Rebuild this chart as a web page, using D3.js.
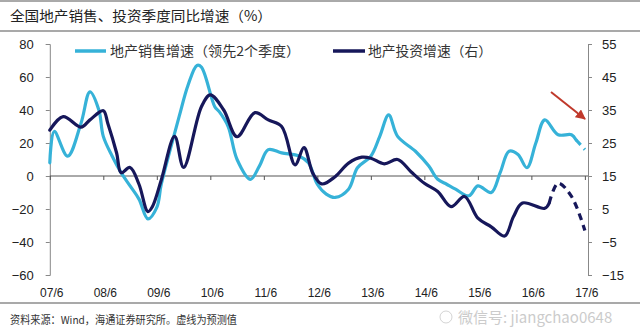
<!DOCTYPE html>
<html><head><meta charset="utf-8">
<script src="https://cdn.jsdelivr.net/npm/d3@7"></script>
<style>
html,body{margin:0;padding:0;background:#fff;}
svg{display:block;}
text{font-family:"Liberation Sans",Arial,"Noto Sans CJK SC",sans-serif;}
.cjk{font-family:"Noto Sans CJK SC","Liberation Sans",sans-serif;}
</style></head><body>
<svg id="c" width="640" height="331"></svg>
<script>
// ---- data ----
const title = "全国地产销售、投资季度同比增速（%）";
const source = "资料来源：Wind，海通证券研究所。虚线为预测值";
const watermark = "微信号: jiangchao0648";
const seriesNames = ["地产销售增速（领先2个季度）", "地产投资增速（右）"];
const xTickLabels = ["07/6","08/6","09/6","10/6","11/6","12/6","13/6","14/6","15/6","16/6","17/6"];
const leftTicks = [80,60,40,20,0,-20,-40,-60];
const rightTicks = [55,45,35,25,15,5,-5,-15];

const salesDates = ["2007-06","2007-07","2007-10","2008-01","2008-03","2008-05","2008-06","2008-08","2008-10","2008-12",
  "2009-02","2009-04","2009-06","2009-07","2009-09","2009-11","2010-01","2010-03","2010-04","2010-07",
  "2010-08","2010-10","2010-12","2011-03","2011-05","2011-07","2011-10","2012-02","2012-04","2012-06",
  "2012-08","2012-10","2013-01","2013-03","2013-06","2013-08","2013-10","2013-12","2014-04","2014-07",
  "2014-09","2014-11","2015-01","2015-04","2015-06","2015-09","2015-11","2016-01","2016-03","2016-05",
  "2016-07","2016-09","2016-12","2017-03","2017-04","2017-06"];
const salesValues = [8,27,12,32,51,40,24,12,2,-6,
  -14,-26,-19,-5,16,36,55,67,66,42,
  39,30,10,-2,6,16,14,12,8,-5,
  -11,-13,-8,5,12,24,37,24,15,6,
  -2,-5,-8,-12,-6,-10,2,15,13,5,
  20,34,25,25,22,16];
const salesForecastFrom = "2017-04";

const investDates = ["2007-06","2007-09","2008-01","2008-03","2008-06","2008-07","2008-09","2008-10","2008-12","2009-02",
  "2009-04","2009-05","2009-07","2009-10","2009-12","2010-04","2010-06","2010-09","2010-12","2011-04",
  "2011-07","2011-10","2012-01","2012-03","2012-05","2012-07","2012-10","2013-01","2013-04","2013-06",
  "2013-09","2013-12","2014-03","2014-06","2014-09","2014-12","2015-03","2015-06","2015-09","2015-12",
  "2016-02","2016-04","2016-09","2016-10","2016-12","2017-03","2017-06"];
const investValues = [28.9,33,29.8,32,34.8,31,21.9,16,17.6,12.5,
  4.2,5.7,13.8,27,17.6,36,39.6,35,26.9,34.2,
  32,30,18.4,23.6,15.8,12.6,14.8,18.9,20.7,20.4,
  18.7,20,16.3,12.8,10.3,5.7,8.8,2.2,-0.4,-3.2,
  2.7,6.8,5.2,6.8,12.8,8.8,-1.5];
const investForecastFrom = "2016-10";

// ---- helpers ----
const mIdx = s => { const [y,m] = s.split("-").map(Number); return (y-2007)*12 + (m-6); };

const svg = d3.select("#c");
const X0 = 49.8, Xend = 588, YT = 44, YB = 275;
const x = d3.scaleLinear().domain([0, 120.7]).range([X0, Xend]);
const yL = d3.scaleLinear().domain([-60, 80]).range([YB, YT]);
const yR = d3.scaleLinear().domain([-15, 55]).range([YB, YT]);

// frame lines
svg.append("line").attr("x1",0).attr("x2",640).attr("y1",1).attr("y2",1).attr("stroke","#555").attr("stroke-width",1);
svg.append("line").attr("x1",0).attr("x2",640).attr("y1",31).attr("y2",31).attr("stroke","#555").attr("stroke-width",1.2);
svg.append("line").attr("x1",0).attr("x2",640).attr("y1",303).attr("y2",303).attr("stroke","#555").attr("stroke-width",1.2);

svg.append("text").attr("class","cjk").attr("x",10).attr("y",21).attr("font-size",14).attr("fill","#222")
  .attr("textLength",262).attr("lengthAdjust","spacingAndGlyphs").text(title);
svg.append("text").attr("class","cjk").attr("x",10).attr("y",324).attr("font-size",11).attr("fill","#333")
  .attr("textLength",227).attr("lengthAdjust","spacingAndGlyphs").text(source);

// left axis
const gL = svg.append("g").attr("transform",`translate(${X0},0)`)
  .call(d3.axisLeft(yL).tickValues(leftTicks).tickSize(4).tickSizeOuter(4).tickPadding(12));
gL.select(".domain").attr("stroke","#888");
gL.selectAll(".tick line").attr("stroke","#888");
gL.selectAll("text").attr("font-size",13).attr("fill","#222").attr("font-family","Liberation Sans, Arial, sans-serif");

// right axis
const gR = svg.append("g").attr("transform",`translate(${Xend},0)`)
  .call(d3.axisRight(yR).tickValues(rightTicks).tickSize(4).tickSizeOuter(4).tickPadding(10));
gR.select(".domain").attr("stroke","#888");
gR.selectAll(".tick line").attr("stroke","#888");
gR.selectAll("text").attr("font-size",13).attr("fill","#222").attr("font-family","Liberation Sans, Arial, sans-serif");

// x axis on zero line
const gX = svg.append("g").attr("transform",`translate(0,${yL(0)})`)
  .call(d3.axisBottom(x).tickValues(d3.range(0,121,12)).tickSize(4).tickSizeOuter(0).tickFormat(()=>""));
gX.select(".domain").attr("stroke","#555").attr("d",`M${X0},0H${Xend}`);
gX.selectAll(".tick line").attr("stroke","#555");

// x labels at bottom
svg.append("g").selectAll("text").data(xTickLabels).join("text")
  .attr("x",(d,i)=>x(i*12)+2).attr("y",297).attr("text-anchor","middle")
  .attr("font-size",12).attr("fill","#222").text(d=>d);

// lines
const curve = d3.curveCatmullRom.alpha(0.5);
function drawSeries(dates, vals, fcFrom, yScale, color){
  const pts = dates.map((d,i)=>({m:mIdx(d), v:vals[i]}));
  const k = dates.indexOf(fcFrom);
  const gen = d3.line().x(d=>x(d.m)).y(d=>yScale(d.v)).curve(curve);
  svg.append("path").attr("d",gen(pts.slice(0,k+1))).attr("fill","none")
    .attr("stroke",color).attr("stroke-width",3.2).attr("stroke-linejoin","round").attr("stroke-linecap","round");
  svg.append("path").attr("d",gen(pts.slice(k))).attr("fill","none")
    .attr("stroke",color).attr("stroke-width",3.2).attr("stroke-dasharray","7,5");
}
const cSales = "#36b2d8", cInv = "#16175a";
drawSeries(salesDates, salesValues, salesForecastFrom, yL, cSales);
drawSeries(investDates, investValues, investForecastFrom, yR, cInv);

// legend
const lg = svg.append("g");
lg.append("line").attr("x1",75).attr("x2",106).attr("y1",51).attr("y2",51).attr("stroke",cSales).attr("stroke-width",3.5);
lg.append("text").attr("class","cjk").attr("x",110).attr("y",56).attr("font-size",13.5).attr("fill","#333")
  .attr("textLength",190).attr("lengthAdjust","spacingAndGlyphs").text(seriesNames[0]);
lg.append("line").attr("x1",333).attr("x2",365).attr("y1",51).attr("y2",51).attr("stroke",cInv).attr("stroke-width",3.5);
lg.append("text").attr("class","cjk").attr("x",368).attr("y",56).attr("font-size",13.5).attr("fill","#333")
  .attr("textLength",124).attr("lengthAdjust","spacingAndGlyphs").text(seriesNames[1]);

// red arrow
const defs = svg.append("defs");
defs.append("marker").attr("id","ah").attr("viewBox","0 0 10 10").attr("refX",9).attr("refY",5)
  .attr("markerWidth",5).attr("markerHeight",5).attr("orient","auto")
  .append("path").attr("d","M0,0L10,5L0,10z").attr("fill","#c0392b");
svg.append("line").attr("x1",551).attr("y1",92).attr("x2",585).attr("y2",119)
  .attr("stroke","#c0392b").attr("stroke-width",2).attr("marker-end","url(#ah)");

// watermark (placed in free space at bottom right so it does not cover labels)
svg.append("circle").attr("cx",446).attr("cy",317).attr("r",6).attr("fill","none").attr("stroke","#aaa").attr("opacity",0.5);
svg.append("text").attr("class","cjk").attr("x",458).attr("y",323).attr("font-size",15)
  .attr("fill","#999").attr("opacity",0.5).text(watermark);
</script>
</body></html>
